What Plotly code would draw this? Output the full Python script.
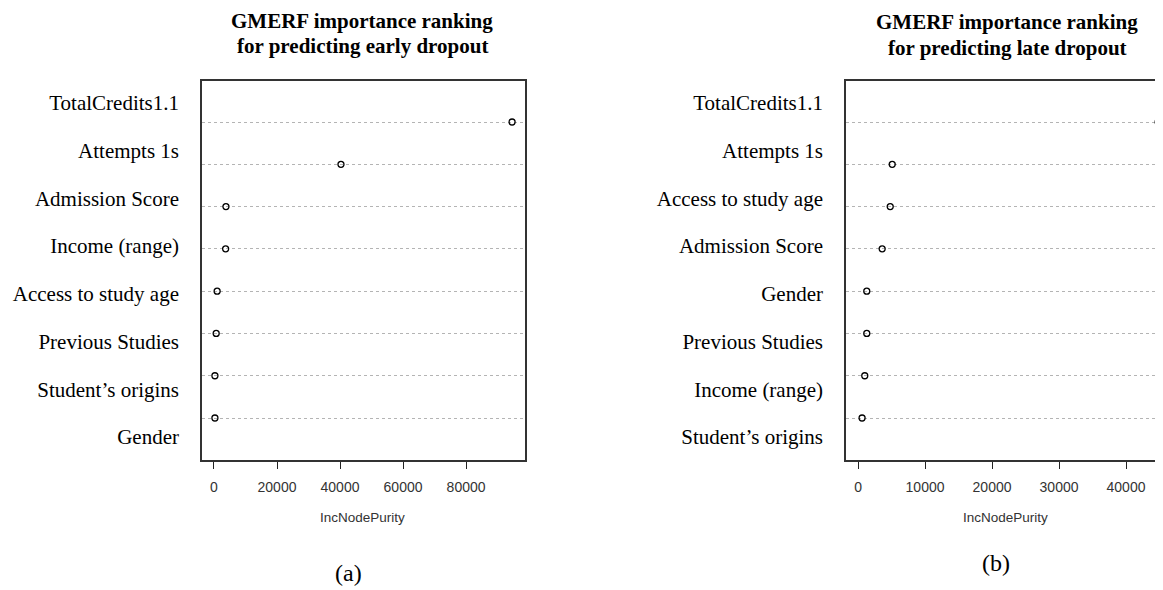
import plotly.graph_objects as go

# ---------------- data ----------------
early_labels = ["TotalCredits1.1", "Attempts 1s", "Admission Score", "Income (range)",
                "Access to study age", "Previous Studies", "Student\u2019s origins", "Gender"]
early_values = [94600, 40300, 3800, 3700, 1000, 700, 300, 300]

late_labels = ["TotalCredits1.1", "Attempts 1s", "Access to study age", "Admission Score",
               "Gender", "Previous Studies", "Income (range)", "Student\u2019s origins"]
late_values = [44800, 5100, 4800, 3600, 1300, 1300, 1000, 600]

early_ticks = [0, 20000, 40000, 60000, 80000]
late_ticks = [0, 10000, 20000, 30000, 40000]

early_title = ["GMERF importance ranking", "for predicting early dropout"]
late_title = ["GMERF importance ranking", "for predicting late dropout"]
x_title = "IncNodePurity"

# ---------------- style ----------------
OFF = 8                      # page body margin
W, H = 1163 - OFF, 590 - OFF
SERIF = "Liberation Serif, Times New Roman, serif"
SANS = "Liberation Sans, Arial, sans-serif"
BOX = "#333333"
GRID = "#b4b4b4"

def px_x(p):
    return (p - OFF) / W

def px_y(p):
    return 1 - (p - OFF) / H

ydom = [px_y(460), px_y(81)]
dot_range = [-0.993, 7.97]
lab_range = [-0.482, 7.461]

fig = go.Figure()

def add_panel(labels, values, xa, ya, yl):
    cats = labels[::-1]
    fig.add_trace(go.Scatter(
        x=values, y=labels, mode="markers", xaxis=xa, yaxis=ya,
        marker=dict(symbol="circle-open", size=6, color="black",
                    line=dict(width=1.3, color="black")),
        showlegend=False, hoverinfo="x+y"))
    fig.add_trace(go.Scatter(
        x=values, y=labels, mode="markers", xaxis=xa, yaxis=yl,
        marker=dict(size=1, opacity=0), showlegend=False, hoverinfo="skip"))
    return cats

cats_e = add_panel(early_labels, early_values, "x", "y", "y2")
cats_l = add_panel(late_labels, late_values, "x2", "y3", "y4")

xcommon = dict(showgrid=False, zeroline=False, showline=True, mirror=True,
               linecolor=BOX, linewidth=1.5, ticks="outside", ticklen=7,
               tickcolor="#222222", tickwidth=1, tickformat="d",
               tickfont=dict(family=SANS, size=14, color="#333333"),
               ticklabelstandoff=6)

fig.update_layout(
    width=W, height=H,
    margin=dict(l=0, r=0, t=0, b=0),
    paper_bgcolor="white", plot_bgcolor="white",
    showlegend=False,
    xaxis=dict(domain=[px_x(202), px_x(525)], range=[-3800, 98700], anchor="y",
               tickvals=early_ticks, **xcommon),
    yaxis=dict(domain=ydom, anchor="x", type="category", categoryorder="array",
               categoryarray=cats_e, range=dot_range, showticklabels=False,
               showgrid=True, gridcolor=GRID, griddash="dot", gridwidth=1,
               zeroline=False, showline=True, mirror=True, linecolor=BOX,
               linewidth=1.5, ticks=""),
    yaxis2=dict(domain=ydom, anchor="x", overlaying="y", side="left", type="category",
                categoryorder="array", categoryarray=cats_e, range=lab_range,
                showgrid=False, zeroline=False, showline=False, ticks="",
                ticklabelstandoff=22,
                tickfont=dict(family=SERIF, size=21, color="black")),
    xaxis2=dict(domain=[px_x(846), 1.0], range=[-1800, 45520], anchor="y3",
                tickvals=late_ticks, **xcommon),
    yaxis3=dict(domain=ydom, anchor="x2", type="category", categoryorder="array",
                categoryarray=cats_l, range=dot_range, showticklabels=False,
                showgrid=True, gridcolor=GRID, griddash="dot", gridwidth=1,
                zeroline=False, showline=True, mirror=False, linecolor=BOX,
                linewidth=1.5, ticks=""),
    yaxis4=dict(domain=ydom, anchor="x2", overlaying="y3", side="left", type="category",
                categoryorder="array", categoryarray=cats_l, range=lab_range,
                showgrid=False, zeroline=False, showline=False, ticks="",
                ticklabelstandoff=22,
                tickfont=dict(family=SERIF, size=21, color="black")),
)

def ann(text, x, y, font, **kw):
    fig.add_annotation(text=text, x=px_x(x), y=px_y(y), xref="paper", yref="paper",
                       showarrow=False, xanchor="center", yanchor="middle",
                       font=font, borderpad=0, **kw)

title_font = dict(family=SERIF, size=21, color="black")
ann("<b>" + early_title[0] + "</b>", 362, 21, title_font)
ann("<b>" + early_title[1] + "</b>", 362, 46, title_font)
ann("<b>" + late_title[0] + "</b>", 1007, 22, title_font)
ann("<b>" + late_title[1] + "</b>", 1007, 48, title_font)
ann(x_title, 363, 517, dict(family=SANS, size=13.5, color="#333333"))
ann(x_title, 1005, 517, dict(family=SANS, size=13.5, color="#333333"))
ann("(a)", 348, 573, dict(family=SERIF, size=24, color="black"))
ann("(b)", 996, 563, dict(family=SERIF, size=24, color="black"))

fig.write_html("out.html")
